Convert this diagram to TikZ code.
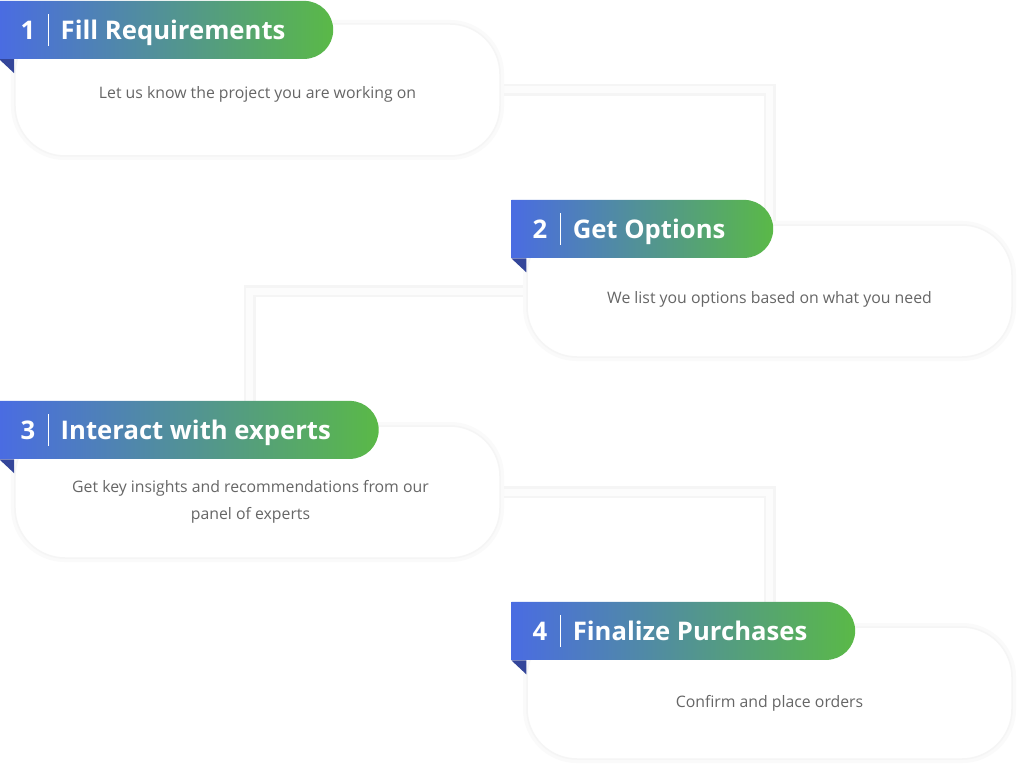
\documentclass[tikz,border=0pt]{standalone}
\usepackage{fontspec}
\setmainfont{Open Sans}
\usetikzlibrary{shapes.misc,backgrounds}

\definecolor{hdblue}{HTML}{4A6CE2}
\definecolor{hdgreen}{HTML}{5AB947}
\definecolor{folddark}{HTML}{34469A}
\definecolor{desctext}{HTML}{666666}

\tikzset{
    card/.style={rectangle, rounded corners=10mm, fill=white, draw=black!4, line width=0.3mm,
        preaction={draw=black!2, line width=1.6mm}, minimum width=97mm, minimum height=26.4mm},
    header/.style={rounded rectangle, rounded rectangle left arc=none, left color=hdblue, right color=hdgreen,
        text=white, font=\fontsize{14.6}{18}\selectfont\bfseries, minimum height=11.6mm,
        inner xsep=0pt, inner ysep=0pt, text height=5.2mm, text depth=1.2mm, anchor=south west},
    desc/.style={text=desctext, font=\fontsize{9}{15.4}\selectfont, align=center},
    link/.style={draw=black!4, line width=0.5mm, double=black!1, double distance=1.4mm},
    fold/.style={fill=folddark}
}
\newcommand{\steptitle}[2]{\kern4.2mm#1\kern2.6mm\rule[-1.2mm]{0.2mm}{6.4mm}\kern2.3mm#2\kern8.6mm}

\begin{document}
\begin{tikzpicture}[x=0.2mm, y=-0.2mm, node distance=40.2mm]
        \useasboundingbox (0,0) rectangle (1024,772);

        % cards
        \node[card] (card1) at (257.5,90) {};
        \node[card, below of=card1, xshift=102.4mm] (card2) {};
        \node[card, below of=card2, xshift=-102.4mm] (card3) {};
        \node[card, below of=card3, xshift=102.4mm] (card4) {};

        \node[desc] (txt1) at ([yshift=-0.9mm]card1.center) {Let us know the project you are working on};
        \node[desc] (txt2) at ([yshift=-1.6mm]card2.center) {We list you options based on what you need};
        \node[desc] (txt3) at ([xshift=-1.4mm, yshift=-2mm]card3.center) {Get key insights and recommendations from our\\panel of experts};
        \node[desc] (txt4) at ([yshift=-2mm]card4.center) {Confirm and place orders};

        % headers
        \node[header] (head1) at ([xshift=-3mm, yshift=-7.2mm]card1.north west) {\steptitle{1}{Fill Requirements}};
        \node[header] (head2) at ([xshift=-3mm, yshift=-6.8mm]card2.north west) {\steptitle{2}{Get Options}};
        \node[header] (head3) at ([xshift=-3mm, yshift=-6.8mm]card3.north west) {\steptitle{3}{Interact with experts}};
        \node[header] (head4) at ([xshift=-3mm, yshift=-6.8mm]card4.north west) {\steptitle{4}{Finalize Purchases}};

        \foreach \h in {head1,head2,head3,head4}
            \fill[fold] (\h.south west) -- ++(3mm,0) -- ++(0,-2.8mm) -- cycle;

        \begin{scope}[on background layer]
            \fill[white] (0,0) rectangle (1024,772);
            \draw[link] (card1.east) -| (card2.north);
            \draw[link] (card2.west) -| ([xshift=-1.6mm]card3.north);
            \draw[link] (card3.east) -| (card4.north);
        \end{scope}
\end{tikzpicture}
\end{document}
